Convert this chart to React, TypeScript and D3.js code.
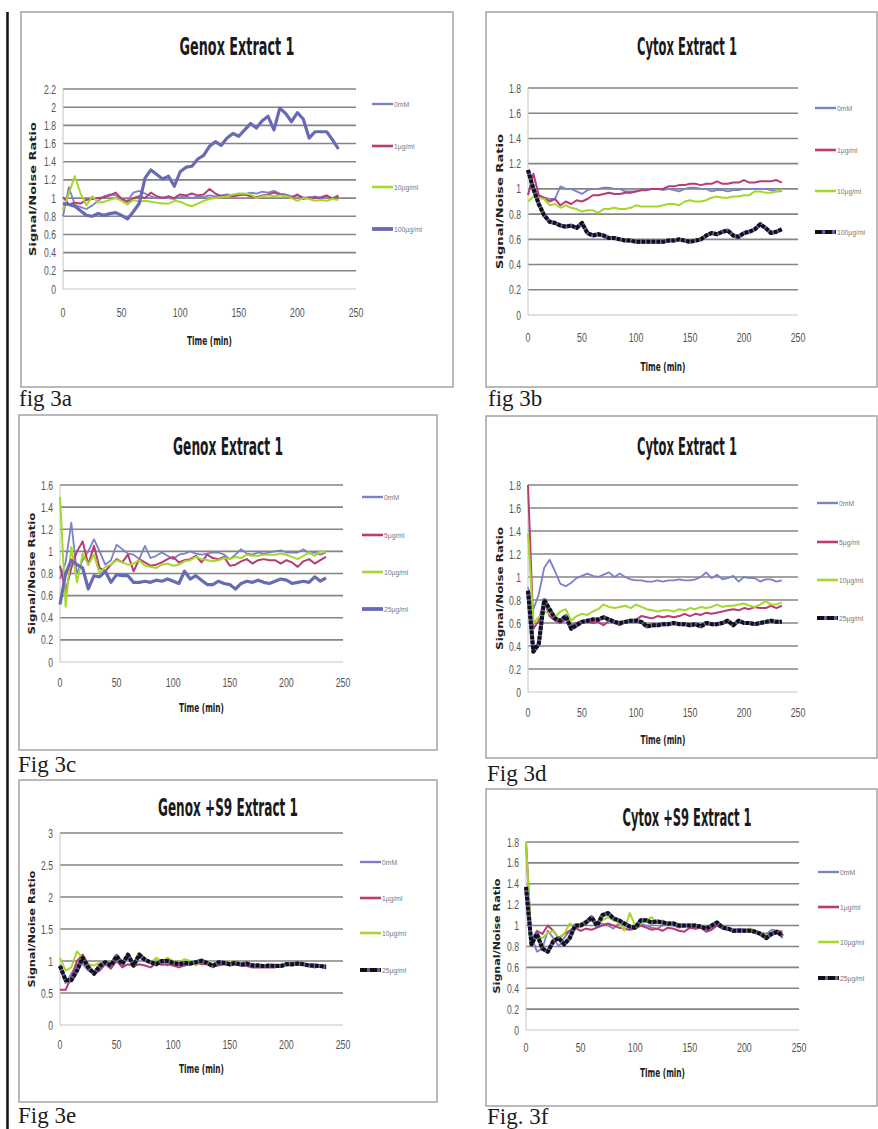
import React, { useLayoutEffect, useRef } from "react";
import * as d3 from "d3";

const TIME = [0,5,10,15,20,25,30,35,40,45,50,55,60,65,70,75,80,85,90,95,100,105,110,115,120,125,130,135,140,145,150,155,160,165,170,175,180,185,190,195,200,205,210,215,220,225,230,235];
const X_TICKS = [0, 50, 100, 150, 200, 250];

// Fig 3a  Genox Extract 1
const A_LABELS = ["0mM", "1µg/ml", "10µg/ml", "100µg/ml"];
const A_0 = [0.80,1.12,0.93,0.90,0.88,0.92,0.97,1.02,1.04,1.03,0.98,0.97,1.06,1.08,1.05,1.02,1.00,1.01,1.00,0.99,1.01,1.02,1.00,1.02,1.01,1.03,1.02,1.03,1.04,1.03,1.05,1.04,1.06,1.05,1.07,1.06,1.08,1.05,1.04,1.02,1.03,1.01,1.00,1.02,1.00,1.02,1.00,1.03];
const A_1 = [1.01,0.93,0.95,0.94,0.98,0.99,1.00,1.01,1.03,1.06,0.99,0.96,1.00,1.02,1.00,1.06,1.02,1.00,1.02,1.00,1.04,1.03,1.05,1.03,1.04,1.10,1.05,1.02,1.03,1.02,1.03,1.04,1.02,1.01,1.03,1.04,1.06,1.04,1.02,1.00,1.04,0.99,1.01,1.00,1.01,1.03,0.99,1.02];
const A_10 = [0.87,1.05,1.24,1.05,0.92,1.02,0.95,0.96,0.98,1.00,0.97,0.93,0.98,0.96,0.97,0.96,0.95,0.94,0.94,0.97,0.96,0.93,0.91,0.94,0.97,0.99,1.00,1.01,1.02,1.04,1.05,1.05,1.04,1.00,1.02,1.03,1.02,1.03,1.02,1.00,0.97,1.00,0.99,0.97,0.98,0.97,0.99,0.98];
const A_100 = [0.94,0.93,0.91,0.86,0.81,0.80,0.83,0.81,0.83,0.84,0.81,0.77,0.85,0.94,1.22,1.31,1.26,1.21,1.24,1.13,1.29,1.34,1.35,1.43,1.47,1.57,1.62,1.58,1.66,1.71,1.68,1.75,1.82,1.77,1.85,1.90,1.75,1.99,1.93,1.84,1.94,1.87,1.66,1.73,1.73,1.73,1.64,1.54];

// Fig 3b  Cytox Extract 1
const B_LABELS = ["0mM", "1µg/ml", "10µg/ml", "100µg/ml"];
const B_0 = [1.13,1.02,0.94,0.93,0.92,0.92,1.02,1.00,1.00,0.98,0.96,0.99,1.00,1.00,1.01,1.01,1.00,1.00,0.98,0.98,0.98,0.99,1.00,1.00,1.00,0.99,1.00,0.99,0.98,1.00,1.01,1.01,1.00,1.00,0.98,0.99,0.99,0.98,0.99,0.99,1.00,1.00,1.00,1.00,1.00,0.99,0.98,0.98];
const B_1 = [0.95,1.12,0.95,0.93,0.90,0.92,0.87,0.90,0.88,0.91,0.90,0.92,0.95,0.95,0.96,0.97,0.96,0.96,0.97,0.97,0.98,0.99,0.99,1.00,1.00,1.00,1.02,1.02,1.03,1.03,1.04,1.04,1.03,1.04,1.04,1.06,1.04,1.04,1.05,1.05,1.07,1.05,1.05,1.06,1.06,1.06,1.07,1.05];
const B_10 = [0.90,0.94,0.93,0.92,0.87,0.88,0.85,0.87,0.85,0.84,0.82,0.83,0.83,0.81,0.84,0.84,0.85,0.84,0.84,0.85,0.87,0.86,0.86,0.86,0.86,0.87,0.88,0.88,0.87,0.90,0.91,0.90,0.90,0.91,0.93,0.94,0.93,0.93,0.94,0.94,0.95,0.95,0.98,0.98,0.97,0.97,0.98,0.99];
const B_100 = [1.15,1.00,0.88,0.79,0.74,0.73,0.71,0.70,0.71,0.69,0.73,0.65,0.63,0.64,0.63,0.61,0.61,0.60,0.59,0.59,0.58,0.58,0.58,0.58,0.58,0.58,0.59,0.59,0.60,0.59,0.58,0.59,0.60,0.63,0.65,0.64,0.66,0.67,0.63,0.62,0.65,0.66,0.68,0.72,0.69,0.65,0.66,0.68];

// Fig 3c  Genox Extract 1
const C_LABELS = ["0mM", "5µg/ml", "10µg/ml", "25µg/ml"];
const C_0 = [0.75,0.90,1.26,0.80,0.92,1.00,1.11,1.00,0.88,0.92,1.06,1.02,0.98,0.97,0.93,1.05,0.94,0.96,0.99,0.96,0.93,0.97,0.98,1.00,0.98,0.97,0.98,0.99,0.99,0.97,0.93,0.97,1.02,0.98,0.97,0.99,0.98,0.99,1.00,1.01,0.99,0.99,0.99,1.02,0.98,0.99,0.97,0.99];
const C_5 = [0.87,0.64,0.85,1.00,1.09,0.88,1.05,0.85,0.82,0.88,0.93,0.90,0.97,0.82,0.93,0.90,0.87,0.88,0.90,0.93,0.95,0.90,0.92,0.93,0.96,0.90,0.97,0.94,0.93,0.95,0.87,0.88,0.91,0.93,0.89,0.92,0.93,0.92,0.92,0.89,0.92,0.90,0.86,0.91,0.93,0.89,0.92,0.95];
const C_10 = [1.49,0.50,1.04,0.72,0.98,0.88,0.97,0.80,0.86,0.88,0.92,0.90,0.88,0.89,0.92,0.87,0.86,0.85,0.88,0.89,0.87,0.88,0.91,0.92,0.95,0.93,0.92,0.91,0.92,0.94,0.93,0.95,0.94,0.97,0.96,0.96,0.97,0.97,0.97,0.98,0.97,0.95,0.93,0.96,0.99,0.96,1.00,0.99];
const C_25 = [0.52,0.80,0.92,0.88,0.85,0.66,0.78,0.77,0.82,0.72,0.79,0.78,0.78,0.72,0.72,0.73,0.72,0.74,0.73,0.75,0.73,0.71,0.82,0.75,0.78,0.74,0.70,0.70,0.73,0.71,0.70,0.66,0.71,0.73,0.72,0.74,0.72,0.71,0.73,0.75,0.74,0.71,0.72,0.73,0.72,0.77,0.73,0.76];

// Fig 3d  Cytox Extract 1
const D_LABELS = ["0mM", "5µg/ml", "10µg/ml", "25µg/ml"];
const D_0 = [0.91,0.72,0.85,1.08,1.15,1.05,0.94,0.92,0.95,0.99,1.01,1.03,1.01,1.00,1.02,1.04,1.00,1.03,1.00,0.98,0.97,0.97,0.96,0.96,0.97,0.96,0.97,0.97,0.98,0.97,0.97,0.98,1.00,1.04,0.99,1.02,0.98,0.99,1.01,0.96,1.00,0.99,0.99,0.96,0.98,0.98,0.96,0.97];
const D_5 = [1.80,0.55,0.62,0.80,0.66,0.62,0.60,0.63,0.58,0.60,0.62,0.61,0.60,0.61,0.58,0.62,0.60,0.58,0.61,0.62,0.63,0.66,0.65,0.64,0.66,0.65,0.66,0.65,0.66,0.68,0.66,0.68,0.67,0.69,0.68,0.69,0.70,0.71,0.72,0.71,0.73,0.72,0.74,0.73,0.73,0.75,0.73,0.75];
const D_10 = [1.38,0.60,0.65,0.70,0.68,0.65,0.70,0.72,0.62,0.66,0.68,0.67,0.70,0.72,0.76,0.74,0.73,0.74,0.75,0.73,0.76,0.74,0.72,0.71,0.70,0.71,0.71,0.70,0.72,0.71,0.73,0.72,0.74,0.73,0.74,0.76,0.74,0.75,0.75,0.76,0.77,0.75,0.74,0.76,0.79,0.76,0.76,0.78];
const D_25 = [0.88,0.35,0.42,0.80,0.72,0.64,0.62,0.66,0.55,0.58,0.61,0.62,0.63,0.63,0.65,0.63,0.61,0.60,0.61,0.62,0.62,0.61,0.57,0.58,0.58,0.59,0.59,0.60,0.59,0.59,0.58,0.59,0.57,0.60,0.59,0.59,0.60,0.62,0.58,0.62,0.60,0.60,0.59,0.60,0.61,0.62,0.61,0.61];

// Fig 3e  Genox +S9 Extract 1
const E_LABELS = ["0mM", "1µg/ml", "10µg/ml", "25µg/ml"];
const E_0 = [0.95,0.65,0.80,0.95,0.95,0.85,0.82,0.92,0.95,0.90,1.05,0.98,1.10,0.90,1.05,1.00,0.98,0.95,0.97,0.93,0.98,0.95,0.97,0.95,1.00,1.03,0.98,0.90,0.95,0.97,0.96,0.94,0.95,0.94,0.95,0.93,0.94,0.93,0.92,0.94,0.95,0.96,0.95,0.94,0.95,0.93,0.94,0.93];
const E_1 = [0.55,0.55,0.75,1.00,1.10,0.95,0.80,0.85,0.95,0.88,1.00,0.90,0.95,0.92,0.95,0.93,0.90,0.96,0.94,0.95,0.93,0.90,0.93,0.95,0.97,0.95,0.95,0.92,0.93,0.95,0.93,0.95,0.93,0.92,0.90,0.90,0.90,0.90,0.90,0.93,0.95,0.93,0.95,0.94,0.92,0.90,0.92,0.88];
const E_10 = [1.05,0.85,0.90,1.15,1.05,0.95,0.93,0.97,0.95,0.92,1.08,1.00,1.05,0.97,1.08,1.05,0.97,1.05,1.00,1.05,1.00,0.97,1.03,1.00,0.93,0.98,1.00,0.95,0.98,0.97,1.00,0.97,0.95,0.96,0.94,0.95,0.93,0.94,0.95,0.94,0.96,0.95,0.96,0.95,0.94,0.93,0.94,0.92];
const E_25 = [0.92,0.70,0.70,0.85,1.05,0.90,0.80,0.92,0.98,0.93,1.08,0.95,1.10,0.93,1.10,1.02,0.98,0.95,1.00,1.00,0.97,0.95,0.97,0.96,0.98,1.00,0.97,0.92,0.98,0.97,0.95,0.97,0.94,0.96,0.93,0.93,0.92,0.93,0.92,0.92,0.95,0.95,0.96,0.95,0.93,0.93,0.92,0.91];

// Fig 3f  Cytox +S9 Extract 1
const F_LABELS = ["0mM", "1µg/ml", "10µg/ml", "25µg/ml"];
const F_0 = [1.35,0.90,0.75,0.78,0.95,0.88,0.80,0.88,0.95,1.00,1.00,1.02,1.05,1.00,1.02,1.00,0.97,1.02,1.00,0.98,1.00,1.02,1.00,0.98,0.97,1.00,1.02,1.00,0.98,0.99,1.00,0.98,0.99,0.95,0.98,1.00,0.97,0.98,0.96,0.97,0.96,0.97,0.95,0.93,0.92,0.96,0.95,0.88];
const F_1 = [1.80,0.85,0.95,0.92,1.00,0.95,0.88,0.92,0.95,0.98,0.95,0.97,0.96,0.98,1.00,1.02,1.00,0.98,0.97,0.96,0.97,1.00,0.98,0.96,0.97,0.95,0.98,0.97,0.95,0.94,0.98,0.97,0.98,0.94,0.96,1.00,0.97,0.96,0.95,0.96,0.96,0.95,0.95,0.93,0.92,0.93,0.95,0.94];
const F_10 = [1.80,0.82,0.90,0.88,0.93,0.95,0.88,0.92,1.02,0.98,1.02,1.05,1.07,1.02,1.05,1.08,1.05,1.03,0.95,1.12,1.00,1.02,1.05,1.08,1.02,1.05,1.02,1.01,1.00,0.99,1.00,1.00,0.99,0.97,1.00,1.04,0.99,0.97,0.95,0.96,0.95,0.97,0.95,0.93,0.91,0.92,0.94,0.92];
const F_25 = [1.37,0.82,0.92,0.78,0.75,0.85,0.88,0.82,0.88,1.00,1.00,1.03,1.08,1.00,1.10,1.12,1.07,1.05,1.02,0.99,0.98,1.05,1.05,1.03,1.04,1.03,1.02,1.02,1.00,1.00,1.00,1.00,0.99,0.97,1.00,1.03,0.98,0.97,0.95,0.95,0.95,0.95,0.94,0.92,0.88,0.92,0.94,0.90];

const C0 = "#7c81c7";
const C1 = "#b93b74";
const C2 = "#a6d72c";
const C3 = "#676bb4";

type Panel = {
  title: string; titleW: number; titleY: number; titleX: number;
  box: [number, number, number, number];
  plot: [number, number, number, number];
  yMax: number; yStep: number;
  series: number[][]; labels: string[]; black: boolean;
  legX: number; legY: number[];
  xTickY: number; xTitleY: number; yLabX: number; yLabLen: number;
  fig: string; figX: number; figY: number;
};

const PANELS: Panel[] = [
  { title: "Genox Extract 1", titleW: 115, titleX: 237, titleY: 55, box: [21, 12, 453, 387], plot: [63, 356, 89, 289], yMax: 2.2, yStep: 0.2,
    series: [A_0, A_1, A_10, A_100], labels: A_LABELS, black: false, legX: 372, legY: [104, 146, 187, 229],
    xTickY: 317, xTitleY: 345, yLabX: 33, yLabLen: 134, fig: "fig 3a", figX: 19, figY: 406 },
  { title: "Cytox Extract 1", titleW: 100, titleX: 687, titleY: 55, box: [486, 12, 877, 387], plot: [528, 798, 88, 315], yMax: 1.8, yStep: 0.2,
    series: [B_0, B_1, B_10, B_100], labels: B_LABELS, black: true, legX: 815, legY: [108, 150, 191, 232],
    xTickY: 342, xTitleY: 371, yLabX: 500, yLabLen: 135, fig: "fig 3b", figX: 488, figY: 406 },
  { title: "Genox Extract 1", titleW: 110, titleX: 228, titleY: 455, box: [19, 415, 437, 750], plot: [60, 343, 485, 662], yMax: 1.6, yStep: 0.2,
    series: [C_0, C_5, C_10, C_25], labels: C_LABELS, black: false, legX: 362, legY: [497, 535, 572, 609],
    xTickY: 687, xTitleY: 712, yLabX: 32, yLabLen: 122, fig: "Fig 3c", figX: 18, figY: 772 },
  { title: "Cytox Extract 1", titleW: 100, titleX: 687, titleY: 455, box: [486, 416, 877, 758], plot: [528, 798, 485, 692], yMax: 1.8, yStep: 0.2,
    series: [D_0, D_5, D_10, D_25], labels: D_LABELS, black: true, legX: 817, legY: [503, 542, 580, 618],
    xTickY: 717, xTitleY: 744, yLabX: 500, yLabLen: 123, fig: "Fig 3d", figX: 487, figY: 781 },
  { title: "Genox +S9 Extract 1", titleW: 140, titleX: 228, titleY: 816, box: [19, 780, 437, 1102], plot: [60, 343, 833, 1025], yMax: 3, yStep: 0.5,
    series: [E_0, E_1, E_10, E_25], labels: E_LABELS, black: true, legX: 360, legY: [862, 898, 933, 970],
    xTickY: 1049, xTitleY: 1073, yLabX: 32, yLabLen: 117, fig: "Fig 3e", figX: 18, figY: 1123 },
  { title: "Cytox +S9 Extract 1", titleW: 129, titleX: 687, titleY: 826, box: [486, 789, 877, 1106], plot: [526, 799, 842, 1030], yMax: 1.8, yStep: 0.2,
    series: [F_0, F_1, F_10, F_25], labels: F_LABELS, black: true, legX: 818, legY: [872, 907, 942, 978],
    xTickY: 1052, xTitleY: 1077, yLabX: 497, yLabLen: 115, fig: "Fig. 3f", figX: 487, figY: 1124 },
];

const fmt = (v: number) => String(Math.round(v * 10) / 10);

// Text squeezed horizontally to a target width with a measured scale transform
function FitText(props: { x: number; y: number; width: number; rotate?: number; size: number; children: string; fill?: string }) {
  const ref = useRef<SVGTextElement>(null);
  const base = `translate(${props.x},${props.y})` + (props.rotate ? ` rotate(${props.rotate})` : "");
  useLayoutEffect(() => {
    const el = ref.current;
    if (!el) return;
    el.setAttribute("transform", base);
    const natural = el.getComputedTextLength();
    const s = natural > 0 ? props.width / natural : 0.6;
    el.setAttribute("transform", `${base} scale(${s},1)`);
  });
  return (
    <text ref={ref} transform={`${base} scale(0.6,1)`} textAnchor="middle" fontFamily="DejaVu Sans, sans-serif" fontWeight="bold"
      fontSize={props.size} fill={props.fill || "#1a1a1a"}>{props.children}</text>
  );
}

function Chart({ p }: { p: Panel }) {
  const [l, r, t, b] = p.plot;
  const x = d3.scaleLinear().domain([0, 250]).range([l, r]);
  const y = d3.scaleLinear().domain([0, p.yMax]).range([b, t]);
  const nT = Math.round(p.yMax / p.yStep);
  const yTicks = d3.range(0, nT + 1).map((i) => i * p.yStep);
  const line = d3.line<number>().x((_, i) => x(TIME[i])).y((d) => y(d)).curve(d3.curveLinear);
  const colors = [C0, C1, C2, C3];
  const widths = [1.8, 2, 2, 3.2];
  const tickFont = "Liberation Sans, Arial, sans-serif";
  return (
    <g>
      <rect x={p.box[0]} y={p.box[1]} width={p.box[2] - p.box[0]} height={p.box[3] - p.box[1]} fill="#fff" stroke="#a3a3a3" strokeWidth={1.5} />
      <FitText x={p.titleX} y={p.titleY} width={p.titleW} size={24}>{p.title}</FitText>
      {yTicks.map((v, i) => (
        <line key={"g" + i} x1={l} x2={r} y1={y(v)} y2={y(v)} stroke={i === 0 ? "#c4c4c4" : "#858585"} strokeWidth={i === 0 ? 1 : 1.6} />
      ))}
      <line x1={l} x2={l} y1={t} y2={b} stroke="#c4c4c4" strokeWidth={1} />
      {yTicks.map((v, i) => (
        <text key={"yt" + i} transform={`translate(${l - 7},${y(v) + 4.5}) scale(0.66,1)`} textAnchor="end" fontFamily={tickFont}
          fontSize={13} fill="#555">{fmt(v)}</text>
      ))}
      {X_TICKS.map((v, i) => (
        <text key={"xt" + i} transform={`translate(${x(v)},${p.xTickY}) scale(0.68,1)`} textAnchor="middle" fontFamily={tickFont}
          fontSize={13} fill="#555">{v}</text>
      ))}
      <FitText x={(l + r) / 2} y={p.xTitleY} width={45} size={12} fill="#222">Time (min)</FitText>
      <FitText x={p.yLabX + 3} y={(t + b) / 2} rotate={-90} width={p.yLabLen} size={9} fill="#222">Signal/Noise Ratio</FitText>
      {p.series.map((s, k) => {
        const dpath = line(s) || "";
        if (k === 3 && p.black) {
          return (
            <g key={"s" + k}>
              <path d={dpath} fill="none" stroke="#5d61a8" strokeWidth={4} strokeLinejoin="round" />
              <path d={dpath} fill="none" stroke="#111" strokeWidth={4} strokeDasharray="3.5 1.5" strokeLinejoin="round" />
            </g>
          );
        }
        return <path key={"s" + k} d={dpath} fill="none" stroke={colors[k]} strokeWidth={widths[k]} strokeLinejoin="round" />;
      })}
      {p.labels.map((lab, k) => {
        const ly = p.legY[k];
        return (
          <g key={"lg" + k}>
            {k === 3 && p.black ? (
              <g>
                <line x1={p.legX} x2={p.legX + 21} y1={ly} y2={ly} stroke="#5d61a8" strokeWidth={4} />
                <line x1={p.legX} x2={p.legX + 21} y1={ly} y2={ly} stroke="#111" strokeWidth={4} strokeDasharray="7 3" />
              </g>
            ) : (
              <line x1={p.legX} x2={p.legX + 21} y1={ly} y2={ly} stroke={colors[k]} strokeWidth={widths[k] + 0.6} />
            )}
            <text transform={`translate(${p.legX + 22},${ly + 3}) scale(0.85,1)`} fontFamily={tickFont} fontSize={8} fill="#777">{lab}</text>
          </g>
        );
      })}
      <text x={p.figX} y={p.figY} fontFamily="Liberation Serif, Times New Roman, serif" fontSize={23} fill="#1c1c1c">{p.fig}</text>
    </g>
  );
}

export default function App() {
  return (
    <div style={{ position: "absolute", left: 0, top: 0, width: 878, height: 1129, background: "#fff" }}>
      <svg width={878} height={1129} viewBox="0 0 878 1129" style={{ display: "block" }}>
        <rect x={0} y={0} width={878} height={1129} fill="#fff" />
        <line x1={7.5} x2={7.5} y1={12} y2={1129} stroke="#111" strokeWidth={2.5} />
        {PANELS.map((p, i) => <Chart key={i} p={p} />)}
      </svg>
    </div>
  );
}
